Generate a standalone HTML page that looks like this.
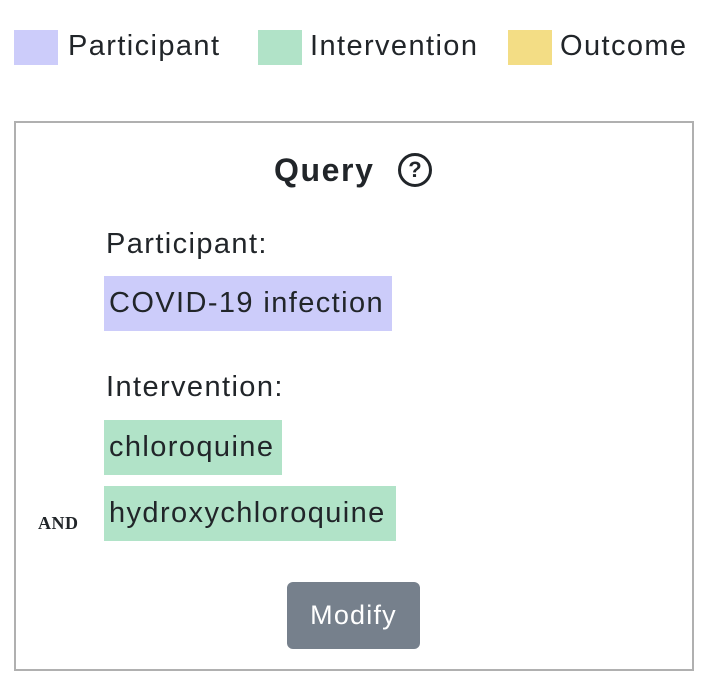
<!DOCTYPE html>
<html><head><meta charset="utf-8"><style>
body{margin:0;width:710px;height:686px;background:#fff;font-family:"Liberation Sans",sans-serif;color:#212529;position:relative;overflow:hidden}
.abs{position:absolute}
.sw{position:absolute;top:30px;width:44px;height:35px}
.lt{position:absolute;top:28px;font-size:29px;line-height:36px;letter-spacing:1.4px}
.chip{position:absolute;left:104px;height:55px;line-height:55px;font-size:29px;padding:0 5px;box-sizing:border-box;letter-spacing:1.4px;white-space:nowrap}
.lbl{position:absolute;left:106px;font-size:29px;line-height:36px;letter-spacing:1.4px}
</style></head><body>
<div class="sw" style="left:14px;background:#ccccfa"></div>
<div class="lt" style="left:68px">Participant</div>
<div class="sw" style="left:258px;background:#b1e3c8"></div>
<div class="lt" style="left:310px">Intervention</div>
<div class="sw" style="left:508px;background:#f3dd85"></div>
<div class="lt" style="left:560px">Outcome</div>

<div class="abs" style="left:14px;top:121px;width:676px;height:546px;border:2px solid #b0b0b0"></div>
<div class="abs" style="left:274px;top:152px;font-size:32px;font-weight:bold;line-height:36px;letter-spacing:1.6px">Query</div>
<div class="abs" style="left:398px;top:153px;width:28px;height:28px;border:3px solid #212529;border-radius:50%;text-align:center;font-weight:bold;font-size:22px;line-height:28px">?</div>

<div class="lbl" style="top:226px">Participant:</div>
<div class="chip" style="top:276px;background:#ccccfa;width:288px">COVID-19 infection</div>
<div class="lbl" style="top:369px">Intervention:</div>
<div class="chip" style="top:420px;background:#b1e3c8;width:178px">chloroquine</div>
<div class="abs" style="left:38px;top:513px;font-family:'Liberation Serif',serif;font-weight:bold;font-size:18px;letter-spacing:0.5px">AND</div>
<div class="chip" style="top:486px;background:#b1e3c8;width:292px">hydroxychloroquine</div>

<div class="abs" style="left:287px;top:582px;width:133px;height:67px;background:#76808c;border-radius:6px;color:#fff;font-size:27px;line-height:67px;text-align:center;letter-spacing:1.2px">Modify</div>
</body></html>
